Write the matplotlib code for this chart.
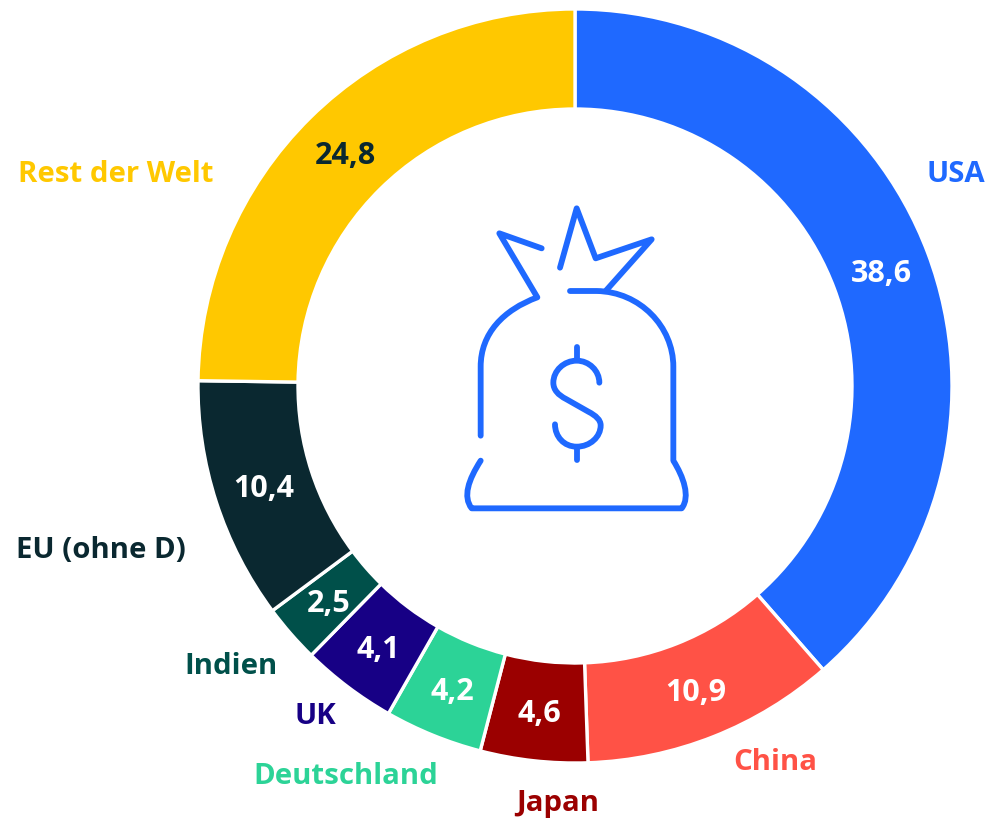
import matplotlib
matplotlib.use('Agg')
import numpy as np
import matplotlib.pyplot as plt
from matplotlib.path import Path
from matplotlib.patches import PathPatch

plt.rcParams['font.family'] = ['Open Sans', 'DejaVu Sans']

categories = ['USA', 'China', 'Japan', 'Deutschland', 'UK', 'Indien', 'EU (ohne D)', 'Rest der Welt']
values = [38.6, 10.9, 4.6, 4.2, 4.1, 2.5, 10.4, 24.8]
value_labels = ['38,6', '10,9', '4,6', '4,2', '4,1', '2,5', '10,4', '24,8']
colors = ['#1F69FF', '#FF5246', '#9B0000', '#2CD397', '#170085', '#00504A', '#0A2830', '#FFC800']
value_colors = ['white'] * 7 + ['#0A2830']

W, H = 989, 818
CX, CY = 575, 386
R_OUT, R_IN = 377, 277

# label anchors in image pixels (right edge of text)
label_right = [985, 817, 599, 438, 336, 278, 186, 213]
label_y = [174, 763, 804, 777, 716, 667, 550, 174]

fig = plt.figure(figsize=(W / 100, H / 100), dpi=100)
ax = fig.add_axes([0, 0, 1, 1])

wedges, _ = ax.pie(values, colors=colors, startangle=90, counterclock=False,
                   center=(CX, H - CY), radius=R_OUT, frame=True,
                   wedgeprops=dict(width=R_OUT - R_IN, edgecolor='white', linewidth=2.4))
ax.set_xlim(0, W)
ax.set_ylim(0, H)
ax.set_aspect('equal')
ax.axis('off')

# value labels in the middle of each ring segment
r_mid = (R_OUT + R_IN) / 2
for w, txt, col in zip(wedges, value_labels, value_colors):
    a = np.deg2rad((w.theta1 + w.theta2) / 2)
    ax.text(CX + r_mid * np.cos(a), H - CY + r_mid * np.sin(a) - 3, txt, color=col,
            fontsize=22, fontweight='bold', ha='center', va='center')

for name, col, x, y in zip(categories, colors, label_right, label_y):
    ax.text(x, H - y, name, color=col, fontsize=21.2, fontweight='bold', ha='right', va='center')


# money bag icon, points taken from a 3x crop at (440, 190)
def P(x, y):
    return (440 + x / 3, H - (190 + y / 3))


def stroke(points, codes=None):
    verts = [P(*p) for p in points]
    if codes is None:
        codes = [Path.MOVETO] + [Path.LINETO] * (len(verts) - 1)
    ax.add_patch(PathPatch(Path(verts, codes), fill=False, edgecolor=colors[0], lw=4.2,
                           capstyle='round', joinstyle='round'))


M, L, C = Path.MOVETO, Path.LINETO, Path.CURVE4
stroke([(305, 175), (178, 130), (292, 322), (190, 360), (122, 430), (122, 530), (122, 737)],
       [M, L, L, C, C, C, L])
stroke([(360, 233), (410, 55), (467, 205), (635, 148), (497, 303)])
stroke([(390, 303), (470, 303), (600, 305), (700, 410), (700, 530), (700, 812),
        (730, 860), (752, 920), (725, 955), (95, 955), (68, 920), (85, 870), (122, 812)],
       [M, L, C, C, C, L, C, C, C, L, C, C, C])
stroke([(478, 578), (478, 542), (447, 512), (410, 512), (372, 512), (340, 542), (340, 578),
        (340, 600), (355, 615), (378, 627), (445, 665), (468, 677), (482, 690), (482, 706),
        (482, 741), (450, 770), (410, 770), (372, 770), (345, 740), (345, 703)],
       [M, C, C, C, C, C, C, C, C, C, L, C, C, C, C, C, C, C, C, C])
stroke([(410, 470), (410, 510)])
stroke([(410, 775), (410, 810)])

fig.savefig('out.png', dpi=100, facecolor='white')
